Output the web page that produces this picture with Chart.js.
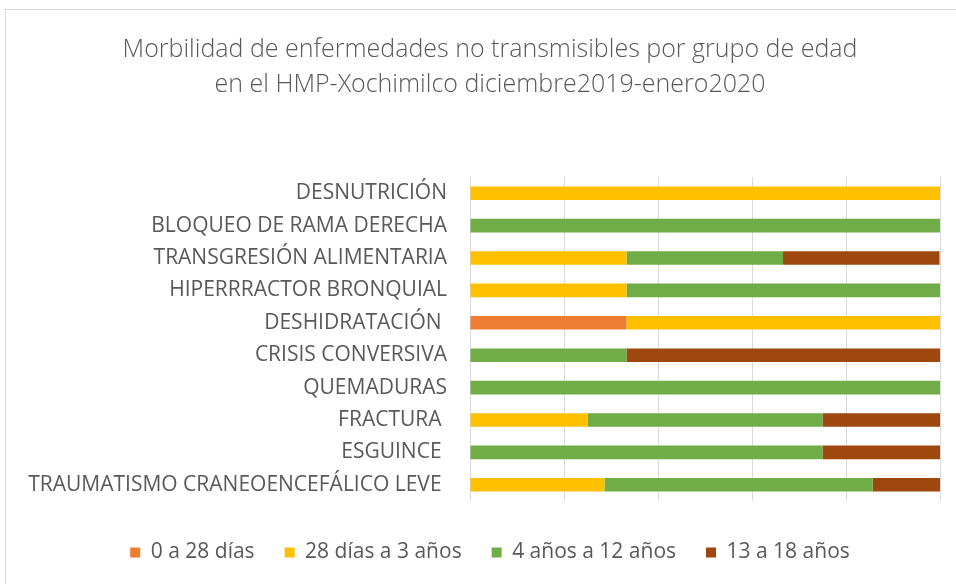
<!DOCTYPE html>
<html>
<head>
<meta charset="utf-8">
<script src="https://cdn.jsdelivr.net/npm/chart.js@4/dist/chart.umd.min.js"></script>
<style>
  html, body { margin: 0; padding: 0; background: #fff; overflow: hidden; }
  #wrap { position: relative; width: 980px; height: 584px; }
  #frame {
    position: absolute; left: 5px; top: 9px; width: 1000px; height: 600px;
    border: 1px solid #d9d9d9; pointer-events: none;
  }
</style>
</head>
<body>
<div id="wrap">
  <canvas id="chart" width="980" height="584"></canvas>
  <div id="frame"></div>
</div>
<script>
// -----------------------------
// Data (percent of cases per age group)
// -----------------------------
const categories = [
  "DESNUTRICIÓN",
  "BLOQUEO DE RAMA DERECHA",
  "TRANSGRESIÓN ALIMENTARIA",
  "HIPERRRACTOR BRONQUIAL",
  "DESHIDRATACIÓN ",
  "CRISIS CONVERSIVA",
  "QUEMADURAS",
  "FRACTURA ",
  "ESGUINCE ",
  "TRAUMATISMO CRANEOENCEFÁLICO LEVE "
];

const seriesNames = ["0 a 28 días", "28 días a 3 años", "4 años a 12 años", "13 a 18 años"];

const neonatos   = [0, 0, 0, 0, 33.3, 0, 0, 0, 0, 0];
const lactantes  = [100, 0, 33.3, 33.3, 66.7, 0, 0, 25, 0, 28.6];
const escolares  = [0, 100, 33.3, 66.7, 0, 33.3, 100, 50, 75, 57.1];
const adolescentes = [0, 0, 33.3, 0, 0, 66.7, 0, 25, 25, 14.3];

const colors = ["#ED7D31", "#FFC000", "#70AD47", "#9E480E"];

const titleLines = [
  "Morbilidad de enfermedades no transmisibles por grupo de edad",
  "en el HMP-Xochimilco diciembre2019-enero2020"
];

// -----------------------------
// Chart
// -----------------------------
const font = "'Open Sans', 'Noto Sans', sans-serif";
const textColor = "#595959";

const ctx = document.getElementById("chart").getContext("2d");

new Chart(ctx, {
  type: "bar",
  data: {
    labels: categories,
    datasets: [neonatos, lactantes, escolares, adolescentes].map((values, i) => ({
      label: seriesNames[i],
      data: values,
      backgroundColor: colors[i],
      borderWidth: 0,
      categoryPercentage: 0.42,
      barPercentage: 1
    }))
  },
  options: {
    indexAxis: "y",
    responsive: false,
    animation: false,
    layout: {
      padding: { left: 10, right: 10, top: 12, bottom: 11 }
    },
    plugins: {
      title: {
        display: true,
        text: titleLines,
        color: textColor,
        font: { family: font, size: 25, weight: "300", lineHeight: 1.4 },
        padding: { top: 20, bottom: 75 }
      },
      legend: {
        position: "bottom",
        labels: {
          color: textColor,
          font: { family: font, size: 21 },
          boxWidth: 10,
          boxHeight: 10,
          padding: 30
        }
      },
      tooltip: { enabled: false }
    },
    scales: {
      x: {
        stacked: true,
        min: 0,
        max: 100,
        ticks: { display: false, stepSize: 20 },
        grid: { color: "#d9d9d9", lineWidth: 1, drawTicks: false },
        border: { display: false },
        afterFit: scale => { scale.height = scale.height + 11; }
      },
      y: {
        stacked: true,
        ticks: {
          color: textColor,
          font: { family: font, size: 21 },
          padding: 15,
          autoSkip: false
        },
        grid: { display: false },
        border: { display: false },
        afterFit: scale => { scale.width = 460; }
      },
      // empty spacer on the right so the plot ends where the reference does
      yRight: {
        type: "category",
        position: "right",
        labels: categories,
        ticks: { display: false },
        grid: { display: false },
        border: { display: false },
        afterFit: scale => { scale.width = 30; }
      }
    }
  }
});
</script>
</body>
</html>
